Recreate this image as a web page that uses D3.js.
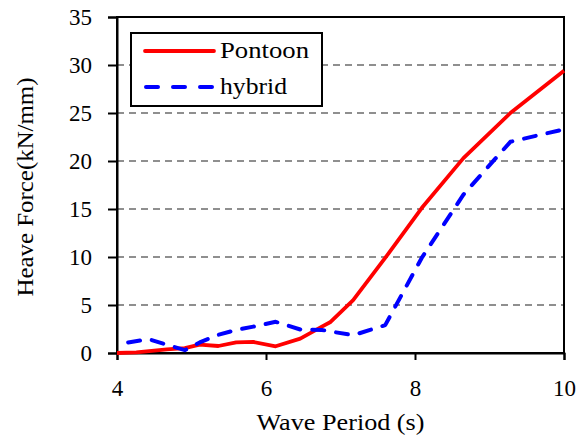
<!DOCTYPE html>
<html><head><meta charset="utf-8">
<script src="https://cdn.jsdelivr.net/npm/d3@7"></script>
<style>
html,body{margin:0;padding:0;background:#fff;}
svg{display:block;}
text{font-family:"Liberation Serif","Times New Roman",serif;fill:#000;}
</style></head>
<body>
<svg id="c" width="587" height="437"></svg>
<script>
const pontoonT = [4, 4.26, 4.67, 4.91, 5.11, 5.36, 5.6, 5.83, 6.13, 6.46, 6.75, 6.86, 7.17, 7.6, 8.09, 8.65, 9.28, 10];
const pontoonV = [0, 0.07, 0.38, 0.5, 0.87, 0.73, 1.1, 1.15, 0.7, 1.5, 2.75, 3.2, 5.5, 9.9, 15.1, 20.3, 25.0, 29.4];
const hybridT = [4.15, 4.42, 4.91, 5.11, 5.36, 5.6, 5.83, 6.13, 6.46, 6.75, 7.17, 7.6, 8.09, 8.65, 9.28, 10];
const hybridV = [1.1, 1.45, 0.3, 1.1, 1.9, 2.4, 2.75, 3.25, 2.45, 2.4, 1.85, 2.9, 9.9, 16.5, 22.0, 23.3];
const xTicks = [4, 6, 8, 10];
const yTicks = [0, 5, 10, 15, 20, 25, 30, 35];
const gridTicks = [5, 10, 15, 20, 25, 30];
const seriesNames = ["Pontoon", "hybrid"];
const xTitle = "Wave Period (s)";
const yTitle = "Heave Force(kN/mm)";

const svg = d3.select("#c");
const L = 117, R = 564, T = 17, B = 353;
const x = d3.scaleLinear().domain([4, 10]).range([L, R]);
const y = d3.scaleLinear().domain([0, 35]).range([B, T]);

// grid
svg.append("g").selectAll("line").data(gridTicks).join("line")
  .attr("x1", L).attr("x2", R)
  .attr("y1", d => y(d)).attr("y2", d => y(d))
  .attr("stroke", "#8f8f8f").attr("stroke-width", 2).attr("stroke-dasharray", "7,5");

// frame
svg.append("rect").attr("x", L).attr("y", T).attr("width", R - L).attr("height", B - T)
  .attr("fill", "none").attr("stroke", "#000").attr("stroke-width", 2);

// axes
const ya = svg.append("g").attr("transform", `translate(${L},0)`)
  .call(d3.axisLeft(y).tickValues(yTicks).tickSize(9).tickPadding(16).tickFormat(d3.format("d")));
ya.select(".domain").attr("stroke", "#000").attr("stroke-width", 2);
ya.selectAll(".tick line").attr("stroke", "#000").attr("stroke-width", 2);
ya.selectAll(".tick text").style("font-size", "23px").attr("dy", "0.34em");

const xa = svg.append("g").attr("transform", `translate(0,${B})`)
  .call(d3.axisBottom(x).tickValues(xTicks).tickSize(7).tickPadding(20).tickFormat(d3.format("d")));
xa.select(".domain").attr("stroke", "#000").attr("stroke-width", 2);
xa.selectAll(".tick line").attr("stroke", "#000").attr("stroke-width", 2);
xa.selectAll(".tick text").style("font-size", "23px").attr("dy", "0.68em");

// lines
const lineGen = d3.line().x(d => x(d[0])).y(d => y(d[1]));
const pData = pontoonT.map((t, i) => [t, pontoonV[i]]);
const hData = hybridT.map((t, i) => [t, hybridV[i]]);
svg.append("path").datum(pData).attr("d", lineGen)
  .attr("fill", "none").attr("stroke", "#ff0000").attr("stroke-width", 3.8).attr("stroke-linejoin", "round");
svg.append("path").datum(hData).attr("d", lineGen)
  .attr("fill", "none").attr("stroke", "#0000ff").attr("stroke-width", 4)
  .attr("stroke-dasharray", "12,12").attr("stroke-linecap", "round").attr("stroke-linejoin", "round");

// titles
svg.append("text").attr("x", (L + R) / 2).attr("y", 430).attr("text-anchor", "middle")
  .style("font-size", "23px").attr("textLength", 168).attr("lengthAdjust", "spacingAndGlyphs").text(xTitle);
svg.append("text").attr("transform", `translate(33,${(T + B) / 2 + 2}) rotate(-90)`).attr("text-anchor", "middle")
  .style("font-size", "23px").attr("textLength", 219).attr("lengthAdjust", "spacingAndGlyphs").text(yTitle);

// legend
const lg = svg.append("g");
lg.append("rect").attr("x", 131).attr("y", 33).attr("width", 191).attr("height", 73)
  .attr("fill", "#fff").attr("stroke", "#000").attr("stroke-width", 2);
lg.append("line").attr("x1", 145).attr("x2", 214).attr("y1", 51).attr("y2", 51)
  .attr("stroke", "#ff0000").attr("stroke-width", 3.8).attr("stroke-linecap", "round");
lg.append("line").attr("x1", 146).attr("x2", 214).attr("y1", 87).attr("y2", 87)
  .attr("stroke", "#0000ff").attr("stroke-width", 4).attr("stroke-dasharray", "12,15").attr("stroke-linecap", "round");
lg.append("text").attr("x", 220).attr("y", 58).style("font-size", "23px")
  .attr("textLength", 89).attr("lengthAdjust", "spacingAndGlyphs").text(seriesNames[0]);
lg.append("text").attr("x", 220).attr("y", 94).style("font-size", "23px")
  .attr("textLength", 67).attr("lengthAdjust", "spacingAndGlyphs").text(seriesNames[1]);
</script>
</body></html>
